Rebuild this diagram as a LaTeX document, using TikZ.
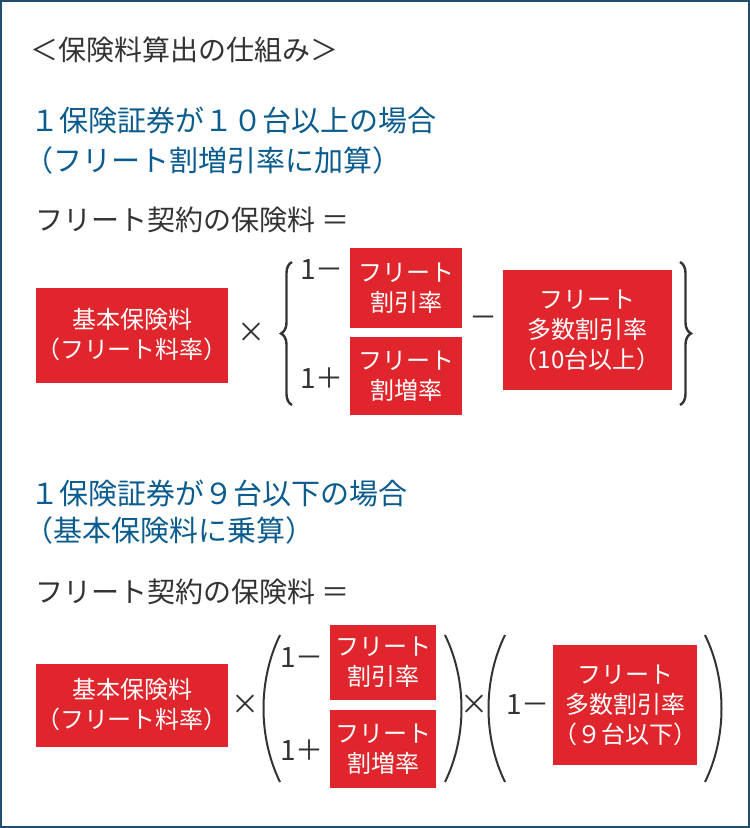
\documentclass[tikz,border=0pt]{standalone}
\usepackage{fontspec}
\setmainfont{Noto Sans CJK JP}
\usetikzlibrary{decorations.pathreplacing}
\definecolor{frame}{HTML}{1F4E6E}
\definecolor{hblue}{HTML}{0B5C8E}
\definecolor{rbox}{HTML}{E0262C}
\definecolor{tx}{HTML}{333333}
\tikzset{
 rb/.style={fill=rbox,text=white,align=center,inner sep=0pt,font=\fontsize{24}{30}\selectfont},
 tt/.style={anchor=west,text=tx,font=\fontsize{28}{34}\selectfont,inner sep=0pt},
 hd/.style={anchor=west,text=hblue,font=\fontsize{29}{36}\selectfont,inner sep=0pt},
 op/.style={text=tx,font=\fontsize{28}{34}\selectfont,inner sep=0pt},
 par/.style={draw=tx,line width=2pt},
 br/.style={draw=tx,line width=2.4pt,decorate,decoration={brace,amplitude=11pt}}
}
\begin{document}
\begin{tikzpicture}[x=1pt,y=-1pt]
\draw[frame,line width=2pt,fill=white] (1,1) rectangle (749,827);
\node[tt] (title) at (30,50) {＜保険料算出の仕組み＞};
\node[hd] (h1) at (30,120) {１保険証券が１０台以上の場合};
\node[hd] (h1b) at (24,160) {（フリート割増引率に加算）};
\node[tt] (f1) at (35,220) {フリート契約の保険料 ＝};
\node[rb,minimum width=190,minimum height=95] (a1) at (132,335) {基本保険料\\（フリート料率）};
\node[op] (x1) at (251,333) {×};
\draw[br] (292,405) -- (292,262);
\node[op] (m1) at (322,270) {1－};
\node[rb,minimum width=112,minimum height=80] (b1) at (406,288) {フリート\\割引率};
\node[op] (p1) at (322,378) {1＋};
\node[rb,minimum width=112,minimum height=78] (c1) at (406,376) {フリート\\割増率};
\node[op] (m2) at (483,322) {－};
\node[rb,minimum width=169,minimum height=120] (d1) at (587,330) {フリート\\多数割引率\\（10台以上）};
\draw[br] (680,262) -- (680,405);
\node[hd] (h2) at (30,493) {１保険証券が９台以下の場合};
\node[hd] (h2b) at (24,530) {（基本保険料に乗算）};
\node[tt] (f2) at (35,592) {フリート契約の保険料 ＝};
\node[rb,minimum width=190,minimum height=83] (a2) at (132,705) {基本保険料\\（フリート料率）};
\node[op] (x2) at (245,705) {×};
\draw[par] (280,635) .. controls (258,680) and (258,737) .. (280,782);
\node[op] (m3) at (302,658) {1－};
\node[rb,minimum width=106,minimum height=75] (b2) at (383,662) {フリート\\割引率};
\node[op] (p3) at (302,750) {1＋};
\node[rb,minimum width=106,minimum height=78] (c2) at (383,749) {フリート\\割増率};
\draw[par] (445,635) .. controls (467,680) and (467,737) .. (445,782);
\node[op] (x3) at (474,705) {×};
\draw[par] (505,635) .. controls (483,680) and (483,737) .. (505,782);
\node[op] (m4) at (528,705) {1－};
\node[rb,minimum width=144,minimum height=120] (d2) at (625,705) {フリート\\多数割引率\\（９台以下）};
\draw[par] (705,635) .. controls (727,680) and (727,737) .. (705,782);
\end{tikzpicture}
\end{document}
